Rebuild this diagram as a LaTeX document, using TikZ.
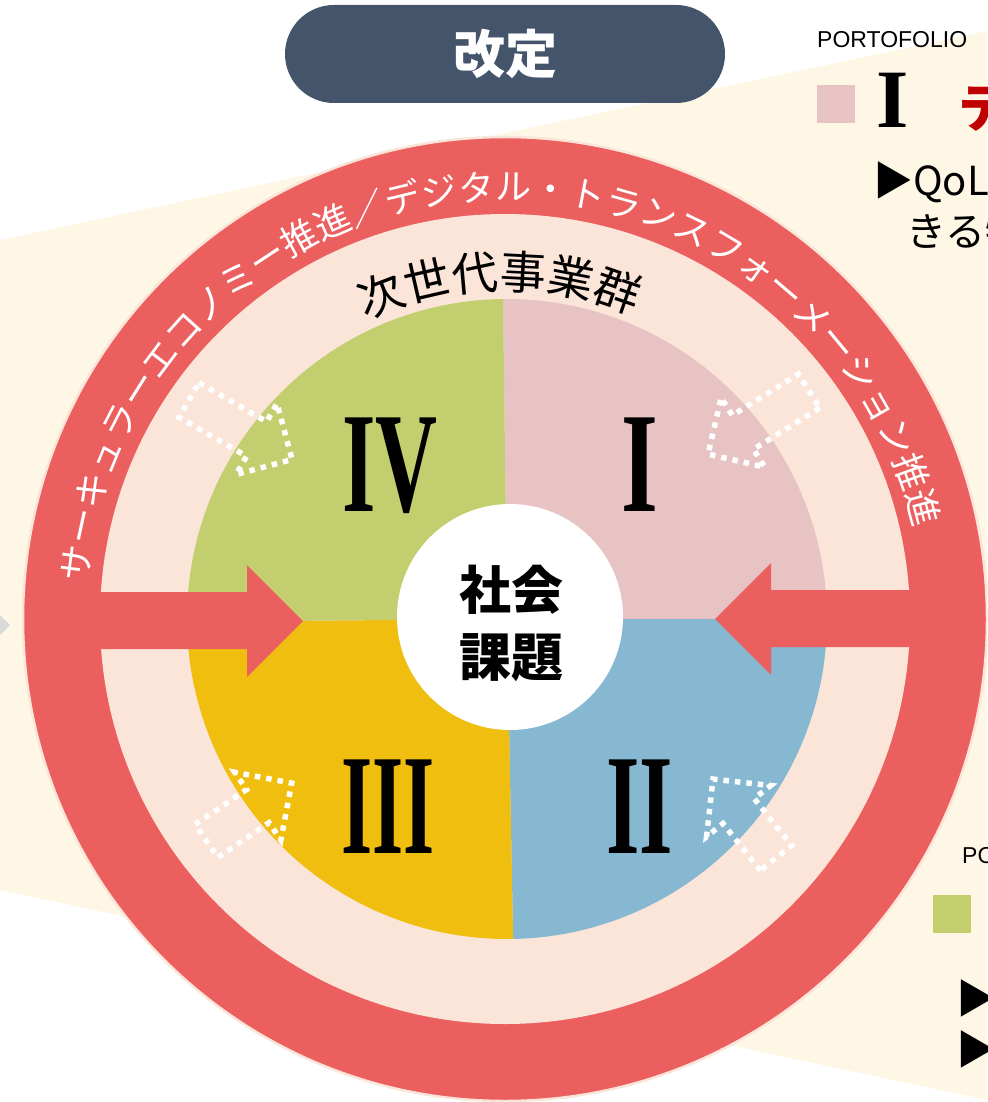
\documentclass[tikz,border=0pt]{standalone}
\usepackage{fontspec}
\usepackage{graphicx}
\setmainfont{Liberation Sans}
\newfontfamily\jp{Noto Sans CJK JP}
\newfontfamily\rom{Liberation Serif}
\usetikzlibrary{decorations.text}

\definecolor{cream}{HTML}{FEF7E5}
\definecolor{ringred}{HTML}{EC5F5F}
\definecolor{peach}{HTML}{FBE5D9}
\definecolor{pinkI}{HTML}{E8C3C3}
\definecolor{blueII}{HTML}{86B8D1}
\definecolor{yellowIII}{HTML}{F0BE0E}
\definecolor{greenIV}{HTML}{C3CF6F}
\definecolor{slate}{HTML}{44546A}
\definecolor{darkred}{HTML}{C00000}

\newcommand{\DotArrow}[4]{%
    % #1,#2 : back of the arrow, #3 : direction, #4 : shaft length
    \begin{scope}[shift={(#1,#2)},rotate={-(#3)}]
    \draw[white,line width=5.5pt,dash pattern=on 5.5pt off 6pt]
        (0,-20) -- (#4,-20) -- (#4,-41) -- (#4+41,0)
        -- (#4,41) -- (#4,20) -- (0,20) -- cycle ;
    \end{scope}
}

\begin{document}
\begin{tikzpicture}[x=1pt,y=-1pt]

\useasboundingbox (0,0) rectangle (987,1102);
\clip (0,0) rectangle (987,1102);

% fond
\fill[cream] (0,240) -- (987,31) -- (987,1100) -- (0,890) -- cycle;
\fill[gray!30] (0,615) -- (10,625) -- (0,635) -- cycle;

\coordinate (C) at (505,619);
\coordinate (Q) at (507,619);

% anneau rouge
\fill[ringred] (C) circle[radius=482];
\draw[peach,line width=2.5pt] (C) circle[radius=482];
\fill[peach] (C) circle[radius=405];

\path[decorate,decoration={text along path,text color=white,text align=left,
    text={|\jp\fontsize{36}{36}\selectfont|サーキュラーエコノミー推進／デジタル・トランスフォーメーション推進}}]
    ([shift={(185:419)}]C) arc[start angle=185,end angle=358,radius=419];

% quadrants
\fill[pinkI] (Q) -- ++(269.3:320) arc[start angle=269.3,end angle=360,radius=320] -- cycle;
\fill[blueII] (Q) -- ++(0:320) arc[start angle=0,end angle=88.9,radius=320] -- cycle;
\fill[yellowIII] (Q) -- ++(88.9:320) arc[start angle=88.9,end angle=179.5,radius=320] -- cycle;
\fill[greenIV] (Q) -- ++(179.5:320) arc[start angle=179.5,end angle=269.3,radius=320] -- cycle;

\path[decorate,decoration={text along path,text align=center,
    text={|\jp\fontsize{46}{46}\selectfont|次世代事業群}}]
    ([shift={(229:330)}]C) arc[start angle=229,end angle=309,radius=330];

% fleches en pointilles
\DotArrow{189}{400}{30}{78}
\DotArrow{809}{391}{148}{78}
\DotArrow{206.5}{841}{-34.2}{62}
\DotArrow{776}{858}{-128.6}{60}

% fleches rouges
\fill[ringred] (98,592) -- (247,592) -- (247,565) -- (303,621)
    -- (247,677) -- (247,649) -- (98,649) -- cycle;
\fill[ringred] (912,590) -- (771,590) -- (771,563) -- (715,619)
    -- (771,675) -- (771,647) -- (912,647) -- cycle;

% chiffres romains
\node[inner sep=0,font=\rom\bfseries\fontsize{143}{143}\selectfont] (nIV) at (390,466) {\scalebox{0.6}[1]{IV}};
\node[inner sep=0,font=\rom\bfseries\fontsize{143}{143}\selectfont] (nI) at (640,465) {\scalebox{0.66}[1]{I}};
\node[inner sep=0,font=\rom\bfseries\fontsize{143}{143}\selectfont] (nIII) at (388,807) {\scalebox{0.56}[1]{III}};
\node[inner sep=0,font=\rom\bfseries\fontsize{143}{143}\selectfont] (nII) at (640,807) {\scalebox{0.6}[1]{II}};

% centre
\node[circle,fill=white,minimum size=226,inner sep=0] (core) at (510,617) {};
\node[align=center,inner sep=0,font=\jp\bfseries\fontsize{52}{67}\selectfont] (issue) at (511,623) {社会\\課題};

% titre
\node[fill=slate,rounded corners=49,minimum width=440,minimum height=98,inner sep=0,
    text=white,font=\jp\bfseries\fontsize{52}{52}\selectfont] (title) at (505,54) {改定};

% a droite
\node[anchor=base west,inner sep=0,font=\fontsize{23}{23}\selectfont] (pf1) at (817,48) {PORTOFOLIO};
\node[fill=pinkI,minimum size=38,inner sep=0,anchor=north west] (sq1) at (817,85) {};
\node[anchor=base west,inner sep=0,font=\rom\bfseries\fontsize{83}{83}\selectfont] (big1) at (876,128) {I};
\node[anchor=base west,inner sep=0,text=darkred,font=\jp\bfseries\fontsize{52}{52}\selectfont] (head1) at (958,128) {テ};
\node[anchor=base west,inner sep=0,font=\jp\fontsize{40}{40}\selectfont] (line1) at (873,196) {▶QoL};
\node[anchor=base west,inner sep=0,font=\jp\fontsize{40}{40}\selectfont] (line2) at (906,246) {きる特};

\node[anchor=base west,inner sep=0,font=\fontsize{23}{23}\selectfont] (pf2) at (962,863) {PO};
\node[fill=greenIV,minimum size=38,inner sep=0,anchor=north west] (sq2) at (933,895) {};
\node[anchor=west,inner sep=0,font=\jp\fontsize{40}{40}\selectfont] (bul1) at (956,998) {▶};
\node[anchor=west,inner sep=0,font=\jp\fontsize{40}{40}\selectfont] (bul2) at (956,1049) {▶};

\end{tikzpicture}
\end{document}
